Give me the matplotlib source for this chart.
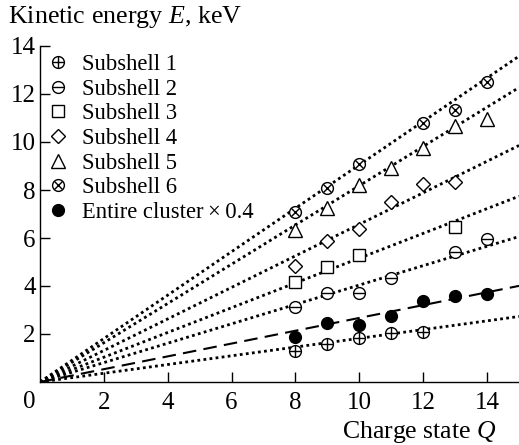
import numpy as np
import matplotlib.pyplot as plt
from matplotlib.legend_handler import HandlerTuple

plt.rcParams['font.family'] = 'Liberation Serif'
plt.rcParams['mathtext.fontset'] = 'custom'
plt.rcParams['mathtext.rm'] = 'Liberation Serif'
plt.rcParams['mathtext.it'] = 'Liberation Serif:italic'

# measured kinetic energies per subshell
q1 = [8, 9, 10, 11, 12]
e1 = [1.30, 1.58, 1.82, 2.03, 2.10]
q2 = [8, 9, 10, 11, 13, 14]
e2 = [3.11, 3.72, 3.72, 4.32, 5.43, 5.95]
q3 = [8, 9, 10, 13]
e3 = [4.15, 4.78, 5.29, 6.47]
q4 = [8, 9, 10, 11, 12, 13]
e4 = [4.83, 5.86, 6.38, 7.48, 8.25, 8.35]
q5 = [8, 9, 10, 11, 12, 13, 14]
e5 = [6.33, 7.24, 8.19, 8.90, 9.74, 10.67, 10.96]
q6 = [8, 9, 10, 12, 13, 14]
e6 = [7.10, 8.07, 9.07, 10.78, 11.35, 12.51]
qc = [8, 9, 10, 11, 12, 13, 14]
ec = [1.89, 2.44, 2.37, 2.76, 3.39, 3.57, 3.67]

# linear fits E = k*Q
k_sub = [0.182, 0.404, 0.516, 0.657, 0.818, 0.905]
k_clu = 0.267

fig = plt.figure(figsize=(5.19, 4.45), dpi=100)
ax = fig.add_axes([40/519, 1-382/445, 479/519, 336/445])

qq = np.linspace(0, 15, 200)
for k in k_sub:
    ax.plot(qq, k*qq, color='black', lw=2.0, linestyle=(0, (1, 1.2)))
ax.plot(qq, k_clu*qq, color='black', lw=1.5, linestyle=(0, (6.5, 3.5)))

ms = 8.5
open_kw = dict(ls='none', mfc='white', mec='black', mew=1.0)
h1a, = ax.plot(q1, e1, 'o', ms=ms, **open_kw)
h1b, = ax.plot(q1, e1, '+', ms=ms, mec='black', mew=1.0, ls='none')
h2a, = ax.plot(q2, e2, 'o', ms=ms, **open_kw)
h2b, = ax.plot(q2, e2, '_', ms=ms, mec='black', mew=1.0, ls='none')
h3, = ax.plot(q3, e3, 's', ms=ms+0.5, **open_kw)
h4, = ax.plot(q4, e4, 'D', ms=ms-1, **open_kw)
h5, = ax.plot(q5, e5, '^', ms=ms+1.5, **open_kw)
h6a, = ax.plot(q6, e6, 'o', ms=ms, **open_kw)
h6b, = ax.plot(q6, e6, 'x', ms=ms*0.7, mec='black', mew=1.0, ls='none')
hc, = ax.plot(qc, ec, 'o', ms=ms, color='black', ls='none')

ax.legend([(h1a, h1b), (h2a, h2b), h3, h4, h5, (h6a, h6b), hc],
          ['Subshell 1', 'Subshell 2', 'Subshell 3', 'Subshell 4',
           'Subshell 5', 'Subshell 6', 'Entire cluster\u2009×\u20090.4'],
          handler_map={tuple: HandlerTuple(ndivide=1)},
          loc='upper left', bbox_to_anchor=(-0.004, 1.003), frameon=False,
          fontsize=16.3, handlelength=1.0, handletextpad=0.55,
          labelspacing=0.16, borderaxespad=0)

ax.set_xlim(0, 15)
ax.set_ylim(0, 14)
ax.set_xticks([2, 4, 6, 8, 10, 12, 14])
ax.set_yticks([2, 4, 6, 8, 10, 12, 14])
ax.tick_params(direction='in', length=7, width=1, labelsize=18)
ax.tick_params(axis='x', pad=7)
ax.tick_params(axis='y', pad=3)
for s in ['top', 'right']:
    ax.spines[s].set_visible(False)
for s in ['left', 'bottom']:
    ax.spines[s].set_linewidth(1.0)

fig.text(29/519, 1-402/445, '0', fontsize=18, ha='center', va='center')
fig.text(8/519, 1-17/445, r'Kinetic energy $E$, keV', fontsize=18.7,
         ha='left', va='center')
fig.text(497/519, 1-432/445, r'Charge state $Q$', fontsize=18.5,
         ha='right', va='center')

fig.savefig('out.png', dpi=100)
